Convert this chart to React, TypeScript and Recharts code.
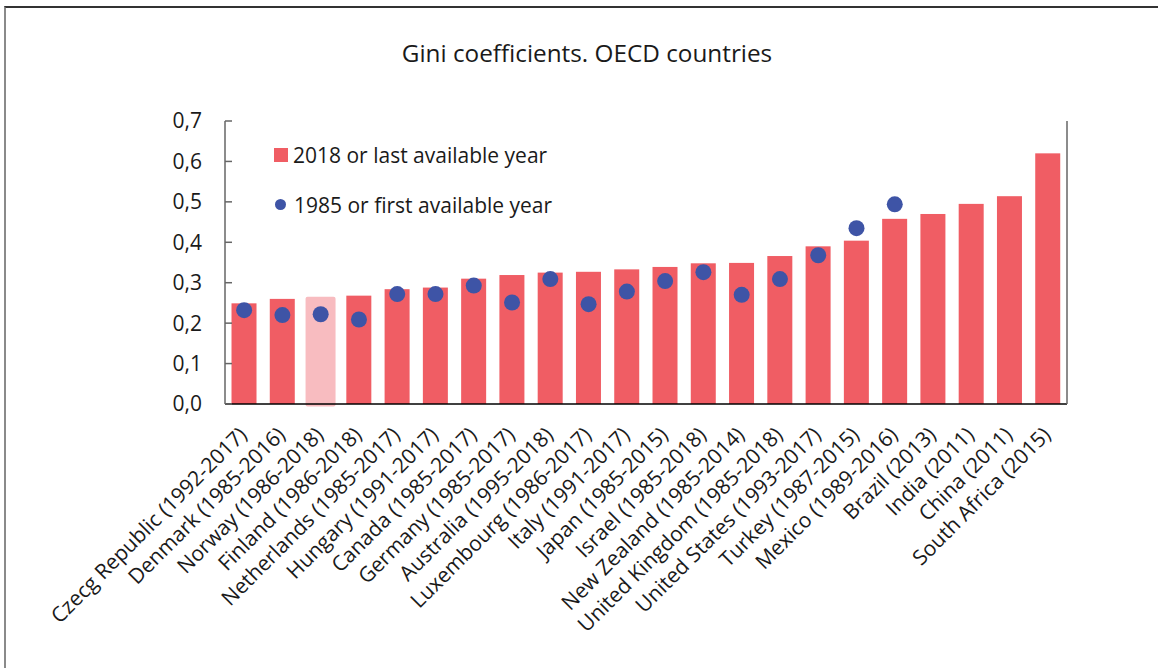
import {
  ComposedChart,
  Bar,
  Scatter,
  XAxis,
  YAxis,
  Legend,
} from "recharts";

const countries = [
  "Czecg Republic (1992-2017)",
  "Denmark (1985-2016)",
  "Norway (1986-2018)",
  "Finland (1986-2018)",
  "Netherlands (1985-2017)",
  "Hungary (1991-2017)",
  "Canada (1985-2017)",
  "Germany (1985-2017)",
  "Australia (1995-2018)",
  "Luxembourg (1986-2017)",
  "Italy (1991-2017)",
  "Japan (1985-2015)",
  "Israel (1985-2018)",
  "New Zealand (1985-2014)",
  "United Kingdom (1985-2018)",
  "United States (1993-2017)",
  "Turkey (1987-2015)",
  "Mexico (1989-2016)",
  "Brazil (2013)",
  "India (2011)",
  "China (2011)",
  "South Africa (2015)",
];

// 2018 or last available year
const latest = [
  0.249, 0.26, 0.265, 0.268, 0.284, 0.288, 0.31, 0.319, 0.325, 0.327, 0.333,
  0.339, 0.348, 0.349, 0.366, 0.39, 0.404, 0.458, 0.47, 0.495, 0.514, 0.62,
];

// 1985 or first available year (no earlier figure for the last four)
const first = [
  0.232, 0.22, 0.222, 0.209, 0.272, 0.272, 0.293, 0.251, 0.309, 0.247, 0.278,
  0.304, 0.326, 0.27, 0.309, 0.368, 0.435, 0.494, null, null, null, null,
];

const yTicks = [0, 0.1, 0.2, 0.3, 0.4, 0.5, 0.6, 0.7];

const highlighted = "Norway (1986-2018)";

const RED = "#f05d64";
const PINK = "#f8bcc0";
const BLUE = "#3e54a6";

const data = countries.map((country, i) => ({
  country,
  latest: latest[i],
  first: first[i],
}));

const fmt = (v: number) => v.toFixed(1).replace(".", ",");

function CountryTick(props: any) {
  const { x, payload } = props;
  return (
    <g transform={`translate(${x + 4},${436}) rotate(-45)`}>
      <text textAnchor="end" fill="#1a1a1a" fontSize={21}>
        {payload.value}
      </text>
    </g>
  );
}

function BarShape(props: any) {
  const { x, y, width, height, payload } = props;
  if (payload.country === highlighted) {
    return (
      <rect
        x={x - 2.5}
        y={y}
        width={width + 5}
        height={height + 2.5}
        rx={2}
        fill={PINK}
      />
    );
  }
  return <rect x={x} y={y} width={width} height={height} fill={RED} />;
}

function Dot(props: any) {
  const { cx, cy, payload } = props;
  if (payload.first == null || !Number.isFinite(cy)) return null;
  return <circle cx={cx} cy={cy} r={8} fill={BLUE} />;
}

function LegendBox() {
  const row = {
    display: "flex",
    alignItems: "center",
    height: 33,
    fontSize: 21,
    color: "#1a1a1a",
    whiteSpace: "nowrap" as const,
  };
  return (
    <div>
      <div style={row}>
        <span style={{ width: 14, height: 14, background: RED, marginRight: 5 }} />
        <span>2018 or last available year</span>
      </div>
      <div style={{ ...row, marginTop: 17 }}>
        <span
          style={{
            width: 11,
            height: 11,
            borderRadius: "50%",
            background: BLUE,
            margin: "0 8px 0 1px",
          }}
        />
        <span>1985 or first available year</span>
      </div>
    </div>
  );
}

export default function App() {
  return (
    <div
      style={{
        position: "absolute",
        left: 0,
        top: 0,
        width: 1158,
        height: 668,
        overflow: "hidden",
        background: "#fff",
        fontFamily: "'Open Sans', 'Noto Sans', sans-serif",
      }}
    >
      <div
        style={{
          position: "absolute",
          left: 4,
          top: 6,
          width: 1200,
          height: 700,
          borderTop: "2px solid #333",
          borderLeft: "2px solid #8a8a8a",
        }}
      />
      <div
        style={{
          position: "absolute",
          left: 8,
          top: 41,
          width: 1158,
          textAlign: "center",
          fontSize: 24.3,
          lineHeight: "24px",
          color: "#1a1a1a",
        }}
      >
        Gini coefficients. OECD countries
      </div>
      <ComposedChart
        width={1158}
        height={668}
        data={data}
        margin={{ top: 121, right: 0, bottom: 0, left: 0 }}
        barCategoryGap="17%"
      >
        <XAxis
          dataKey="country"
          interval={0}
          height={264}
          tickLine={false}
          axisLine={{ stroke: "#000", strokeWidth: 1.5 }}
          tick={<CountryTick />}
        />
        <YAxis
          yAxisId="left"
          orientation="left"
          width={225}
          domain={[0, 0.7]}
          ticks={yTicks}
          tickFormatter={fmt}
          tickSize={-7}
          tickMargin={30}
          axisLine={{ stroke: "#666", strokeWidth: 1.5 }}
          tickLine={{ stroke: "#666", strokeWidth: 1.5 }}
          tick={{ fill: "#1a1a1a", fontSize: 21 }}
        />
        <YAxis
          yAxisId="right"
          orientation="right"
          width={91}
          domain={[0, 0.7]}
          ticks={yTicks}
          tickFormatter={fmt}
          tickSize={-7}
          tickMargin={30}
          axisLine={{ stroke: "#666", strokeWidth: 1.5 }}
          tickLine={{ stroke: "#666", strokeWidth: 1.5 }}
          tick={{ fill: "#1a1a1a", fontSize: 21, textAnchor: "start" }}
        />
        <Legend
          layout="horizontal"
          verticalAlign="middle"
          align="center"
          content={() => <LegendBox />}
          wrapperStyle={{ left: 274, top: 138, width: 330 }}
        />
        <Bar
          yAxisId="left"
          dataKey="latest"
          name="2018 or last available year"
          fill={RED}
          shape={<BarShape />}
          isAnimationActive={false}
        />
        <Scatter
          yAxisId="left"
          dataKey="first"
          name="1985 or first available year"
          fill={BLUE}
          shape={<Dot />}
          isAnimationActive={false}
        />
      </ComposedChart>
    </div>
  );
}
